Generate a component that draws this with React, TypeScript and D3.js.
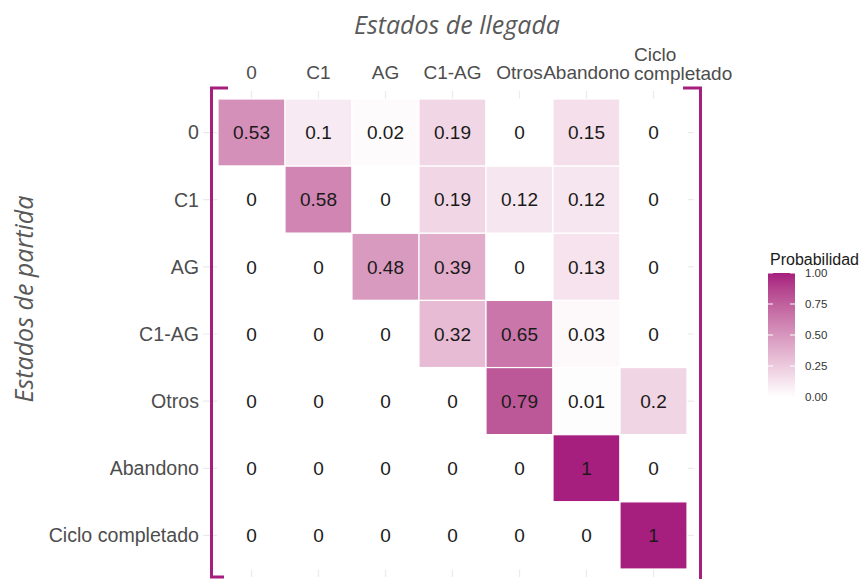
import React from "react";
import * as d3 from "d3";

const states = ["0", "C1", "AG", "C1-AG", "Otros", "Abandono", "Ciclo completado"];
const colLabels = [["0"], ["C1"], ["AG"], ["C1-AG"], ["Otros"], ["Abandono"], ["Ciclo", "completado"]];
const probRow0 = [0.53, 0.1, 0.02, 0.19, 0, 0.15, 0];
const probRowC1 = [0, 0.58, 0, 0.19, 0.12, 0.12, 0];
const probRowAG = [0, 0, 0.48, 0.39, 0, 0.13, 0];
const probRowC1AG = [0, 0, 0, 0.32, 0.65, 0.03, 0];
const probRowOtros = [0, 0, 0, 0, 0.79, 0.01, 0.2];
const probRowAbandono = [0, 0, 0, 0, 0, 1, 0];
const probRowCiclo = [0, 0, 0, 0, 0, 0, 1];
const matrix = [probRow0, probRowC1, probRowAG, probRowC1AG, probRowOtros, probRowAbandono, probRowCiclo];
const legendTicks = [0, 0.25, 0.5, 0.75, 1];

const HIGH = "#A61E7E";

export default function App() {
  const W = 861, H = 579;
  const x = d3.scaleBand<string>().domain(states).range([218, 687]).padding(0);
  const y = d3.scaleBand<string>().domain(states).range([99, 569]).padding(0);
  const color = d3.scaleLinear<string>().domain([0, 1]).range(["#ffffff", HIGH]).interpolate(d3.interpolateLab);
  const legY = d3.scaleLinear().domain([0, 1]).range([397, 273]);
  const cells = matrix.flatMap((row, i) => row.map((v, j) => ({ r: states[i], c: states[j], v })));
  const gridCol = "#ebebeb";
  const axisFont = "'Liberation Sans', Arial, sans-serif";
  const fs = 19;
  return (
    <svg width={W} height={H} style={{ position: "absolute", left: 0, top: 0, background: "#fff" }}>
      <defs>
        <linearGradient id="leg" x1="0" y1="1" x2="0" y2="0">
          {d3.range(0, 1.0001, 0.1).map((t) => (
            <stop key={t} offset={t} stopColor={color(t)} />
          ))}
        </linearGradient>
      </defs>
      {/* grid */}
      {states.map((s) => (
        <line key={"gv" + s} x1={x(s)! + x.bandwidth() / 2} x2={x(s)! + x.bandwidth() / 2} y1={91} y2={577} stroke={gridCol} strokeWidth={1.2} />
      ))}
      {states.map((s) => (
        <line key={"gh" + s} y1={y(s)! + y.bandwidth() / 2} y2={y(s)! + y.bandwidth() / 2} x1={203} x2={694} stroke={gridCol} strokeWidth={1.2} />
      ))}
      {/* tiles */}
      {cells.map((d) => (
        <rect key={d.r + d.c} x={x(d.c)!} y={y(d.r)!} width={x.bandwidth()} height={y.bandwidth()} fill={color(d.v)} stroke="#fff" strokeWidth={1.2} />
      ))}
      {cells.map((d) => (
        <text key={"t" + d.r + d.c} x={x(d.c)! + x.bandwidth() / 2} y={y(d.r)! + y.bandwidth() / 2} dy="0.35em" textAnchor="middle" fontFamily={axisFont} fontSize={fs} fill="#1a1a1a">
          {String(d.v)}
        </text>
      ))}
      {/* row labels */}
      {states.map((s) => (
        <text key={"yl" + s} x={199} y={y(s)! + y.bandwidth() / 2} dy="0.35em" textAnchor="end" fontFamily={axisFont} fontSize={19.6} fill="#4d4d4d">
          {s}
        </text>
      ))}
      {/* column labels */}
      {states.map((s, i) =>
        colLabels[i].length === 1 ? (
          <text key={"xl" + s} x={x(s)! + x.bandwidth() / 2} y={79} textAnchor="middle" fontFamily={axisFont} fontSize={fs} fill="#4d4d4d">
            {colLabels[i][0]}
          </text>
        ) : (
          colLabels[i].map((l, k) => (
            <text key={"xl" + s + k} x={634} y={61 + k * 19} textAnchor="start" fontFamily={axisFont} fontSize={fs} fill="#4d4d4d">
              {l}
            </text>
          ))
        )
      )}
      {/* brackets */}
      <path d="M228,88 H211.5 V577 H224" fill="none" stroke={HIGH} strokeWidth={3} />
      <path d="M683,88 H700.5 V579" fill="none" stroke={HIGH} strokeWidth={3} />
      {/* titles */}
      <text x={457} y={34} textAnchor="middle" fontFamily="'Open Sans', sans-serif" fontStyle="italic" fontSize={25} fill="#595959">
        Estados de llegada
      </text>
      <text transform="translate(33,299) rotate(-90)" textAnchor="middle" fontFamily="'Open Sans', sans-serif" fontStyle="italic" fontSize={25} fill="#595959">
        Estados de partida
      </text>
      {/* legend */}
      <text x={770} y={265} fontFamily={axisFont} fontSize={16} fill="#1a1a1a">Probabilidad</text>
      <rect x={768} y={273} width={27} height={124} fill="url(#leg)" />
      {legendTicks.map((t) => (
        <g key={"lt" + t}>
          <line x1={768} x2={773} y1={legY(t)} y2={legY(t)} stroke="#fff" strokeWidth={1} />
          <line x1={790} x2={795} y1={legY(t)} y2={legY(t)} stroke="#fff" strokeWidth={1} />
          <text x={805} y={legY(t)} dy="0.35em" fontFamily={axisFont} fontSize={11.5} fill="#333333">{t.toFixed(2)}</text>
        </g>
      ))}
    </svg>
  );
}
